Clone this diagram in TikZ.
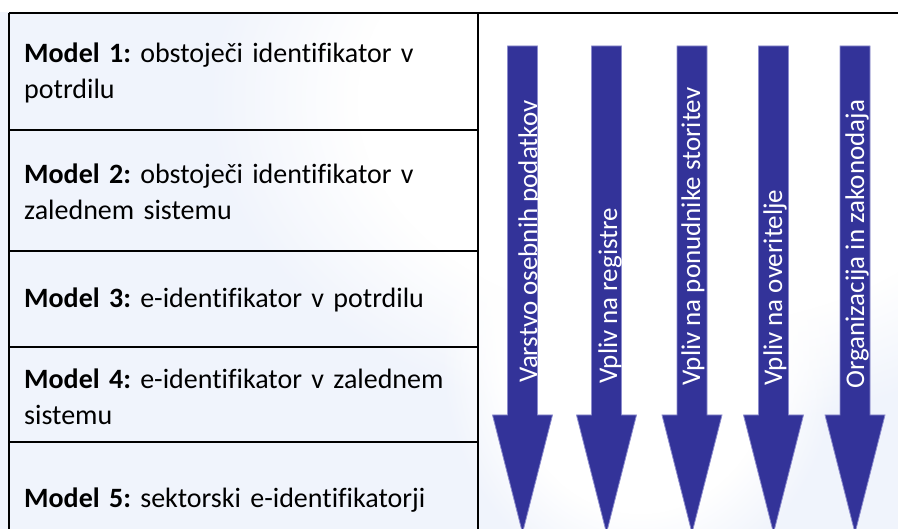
\documentclass[tikz,border=0pt]{standalone}
\usepackage{fontspec}
\usetikzlibrary{fadings}
\setmainfont{Carlito}[Ligatures={NoCommon}]
\definecolor{bgblue}{RGB}{240,244,252}
\definecolor{arrowblue}{RGB}{51,51,153}
\definecolor{arrowedge}{RGB}{140,140,205}
\pgfdeclareradialshading{softmask}{\pgfpointorigin}{%
  color(0bp)=(white); color(17bp)=(white);
  color(25bp)=(black); color(50bp)=(black)}
\pgfdeclarefading{softfade}{\pgfuseshading{softmask}}
\tikzset{
  gridline/.style={line width=2pt, black},
  modeltext/.style={anchor=west, align=left, text width=445pt, inner sep=0pt,
     font=\fontsize{28}{36}\selectfont\frenchspacing},
  arrowshape/.style={fill=arrowblue, draw=arrowedge, line width=0.8pt},
  arrowlabel/.style={rotate=90, anchor=base west, inner sep=0pt, text=white,
     font=\fontsize{27}{30}\selectfont},
  glow/.style={fill=white, path fading=softfade, fit fading=true}
}
\newcommand{\downarrowshape}[2]{% #1 centre x, #2 name
  \path[arrowshape] (#1-15,46) -- (#1+15,46) -- (#1+15,415) -- (#1+30,415)
     -- (#1,533) -- (#1-30,415) -- (#1-15,415) -- cycle;
  \coordinate (#2) at (#1,46);
}
\begin{document}
\begin{tikzpicture}[x=1pt,y=-1pt]
\useasboundingbox (0,0) rectangle (898,529);
\clip (0,0) rectangle (898,529);
% background
\fill[bgblue] (0,0) rectangle (898,529);
\fill[glow] (685,100) ellipse (480 and 330);
\fill[glow] (640,350) ellipse (200 and 240);
\fill[white] (0,0) rectangle (898,12);
% table
\draw[gridline] (8.5,13) -- (898,13);
\draw[gridline] (8.5,13) -- (8.5,560);
\draw[gridline] (478,13) -- (478,560);
\foreach \yy in {130,251,347,442}
  \draw[gridline] (8.5,\yy) -- (478,\yy);
% left texts
\node[modeltext] (m1) at (24,73) {\textbf{Model 1:} obstoječi identifikator v potrdilu};
\node[modeltext] (m2) at (24,192) {\textbf{Model 2:} obstoječi identifikator v zalednem sistemu};
\node[modeltext] (m3) at (24,300) {\textbf{Model 3:} e-identifikator v potrdilu};
\node[modeltext] (m4) at (24,397) {\textbf{Model 4:} e-identifikator v zalednem sistemu};
\node[modeltext] (m5) at (24,500) {\textbf{Model 5:} sektorski e-identifikatorji};
% arrows
\downarrowshape{522.5}{a1}
\downarrowshape{606.5}{a2}
\downarrowshape{692}{a3}
\downarrowshape{773.5}{a4}
\downarrowshape{855}{a5}
\node[arrowlabel] (t1) at (537,383) {Varstvo osebnih podatkov};
\node[arrowlabel] (t2) at (617,384) {Vpliv na registre};
\node[arrowlabel] (t3) at (700,386) {Vpliv na ponudnike storitev};
\node[arrowlabel] (t4) at (782,386) {Vpliv na overitelje};
\node[arrowlabel] (t5) at (864,389) {Organizacija in zakonodaja};
\end{tikzpicture}
\end{document}
